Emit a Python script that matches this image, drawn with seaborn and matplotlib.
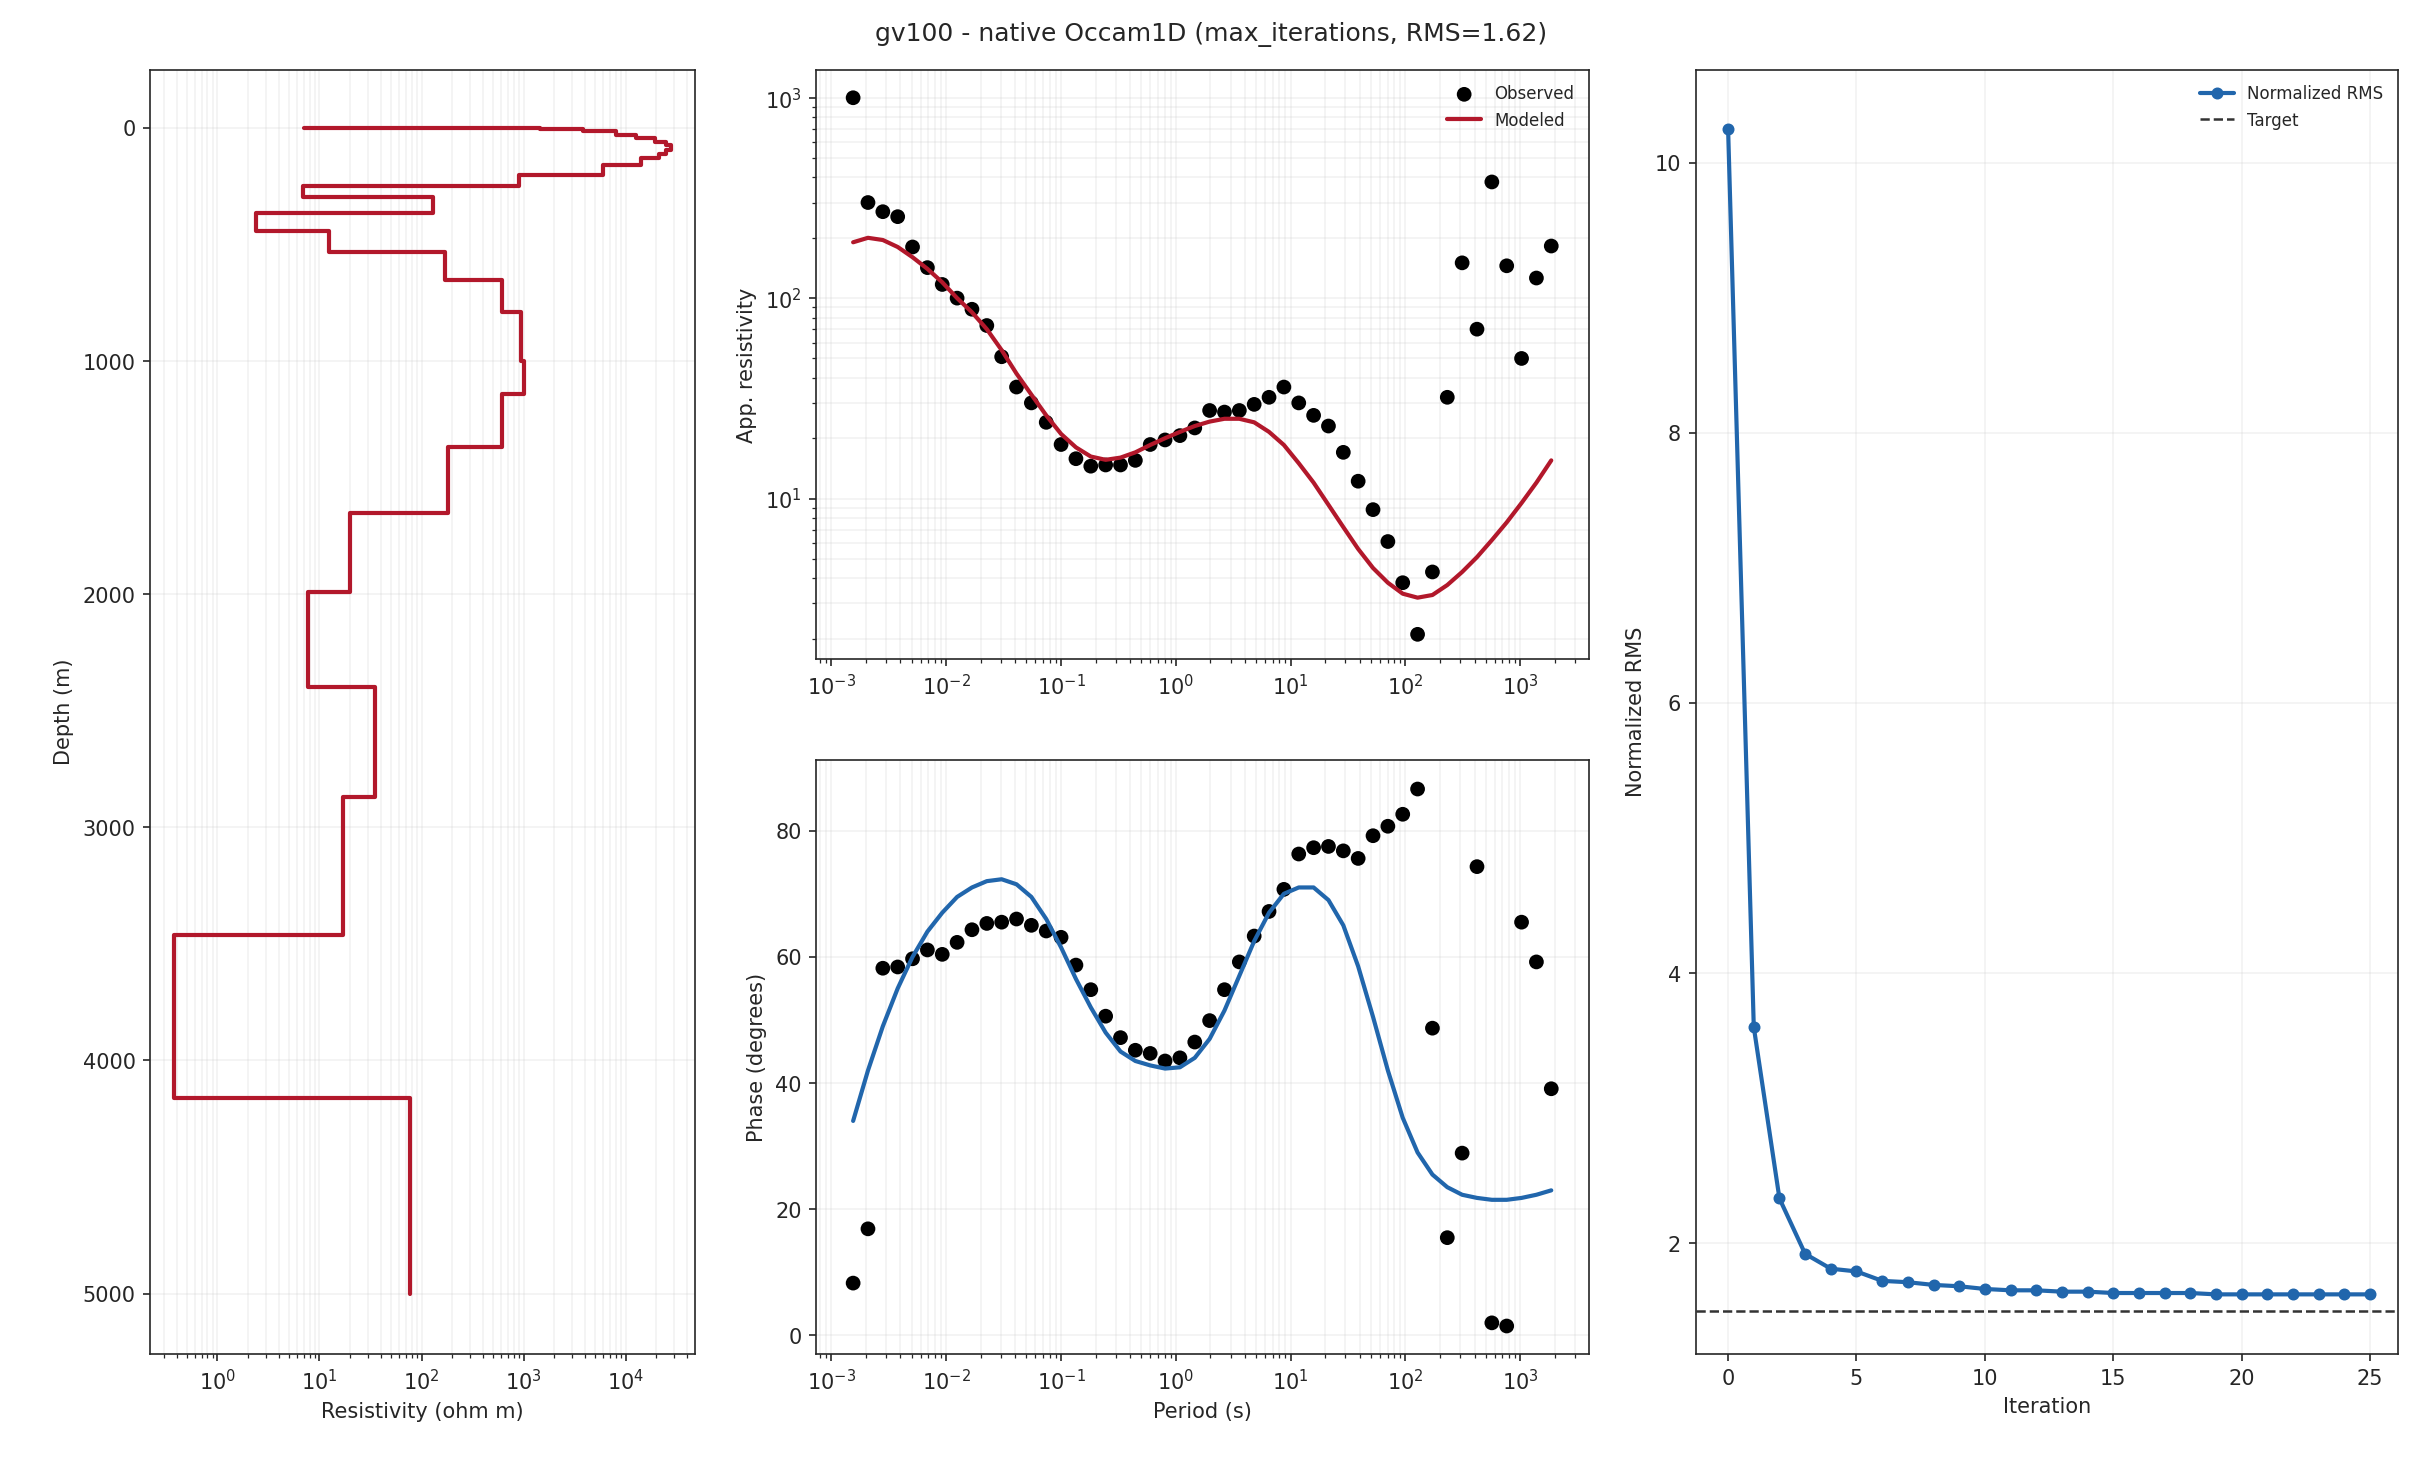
import numpy as np
import pandas as pd
import matplotlib.pyplot as plt
import seaborn as sns

sns.set_style('ticks')
plt.rcParams['font.family'] = ['DejaVu Sans']

# Layered model: (top depth, resistivity) per layer
layer_tops = [0, 0, 5, 15, 30, 45, 60, 75, 95, 110, 130, 160, 200, 248, 295, 364, 444, 532, 650,
              790, 1000, 1140, 1370, 1650, 1990, 2400, 2870, 3460, 4160]
layer_rho = [7, 1450, 3800, 8000, 12600, 19500, 25000, 28000, 25000, 21000, 14000, 6000, 900, 6.9,
             130, 2.4, 12.4, 170, 620, 950, 1000, 620, 180, 20, 7.8, 35, 17, 0.38, 77]
bottom_depth = 5000

# Build the staircase
stairs = []
bottoms = layer_tops[1:] + [bottom_depth]
for top, bot, rho in zip(layer_tops, bottoms, layer_rho):
    stairs.append((rho, top))
    stairs.append((rho, bot))
model_df = pd.DataFrame(stairs, columns=['rho', 'depth'])

# Response data
periods = 10 ** np.linspace(-2.81, 3.27, 48)
obs_rho = [1000, 300, 270, 255, 180, 142, 117, 100, 88, 73, 51, 36, 30, 24, 18.6, 15.8, 14.5, 14.7,
           14.7, 15.5, 18.6, 19.6, 20.6, 22.5, 27.5, 27, 27.5, 29.5, 32, 36, 30, 26, 23, 17, 12.2,
           8.8, 6.1, 3.8, 2.1, 4.3, 32, 150, 70, 380, 145, 50, 126, 182]
obs_phase = [8.3, 16.9, 58.2, 58.4, 59.7, 61.1, 60.4, 62.3, 64.3, 65.3, 65.5, 66.0, 65.0, 64.1,
             63.1, 58.7, 54.8, 50.6, 47.2, 45.2, 44.7, 43.5, 44.0, 46.5, 49.9, 54.8, 59.2, 63.3,
             67.2, 70.7, 76.3, 77.3, 77.5, 76.8, 75.6, 79.2, 80.7, 82.6, 86.6, 48.7, 15.5, 28.9,
             74.3, 2.0, 1.5, 65.5, 59.2, 39.1]
mod_rho = [190, 200, 195, 180, 160, 140, 120, 100, 85, 70, 55, 42, 33, 26, 21, 18, 16.2, 15.6, 16,
           17, 18.5, 20, 21.5, 23, 24.2, 25, 25, 24, 21.5, 18.5, 15, 12, 9.3, 7.2, 5.6, 4.5, 3.8,
           3.35, 3.2, 3.3, 3.7, 4.3, 5.1, 6.2, 7.6, 9.5, 12, 15.5]
mod_phase = [34, 42, 49, 55, 60, 64, 67, 69.5, 71, 72, 72.3, 71.5, 69.5, 66, 61.5, 56.5, 52, 48,
             45, 43.5, 42.8, 42.3, 42.5, 44, 47, 51.5, 57, 62.5, 67, 70, 71, 71, 69, 65, 58.5,
             50.5, 42, 34.5, 29, 25.5, 23.5, 22.3, 21.8, 21.5, 21.5, 21.8, 22.3, 23]
resp = pd.DataFrame({'period': periods, 'obs_rho': obs_rho, 'obs_phase': obs_phase,
                     'mod_rho': mod_rho, 'mod_phase': mod_phase})

# Convergence history
rms = [10.25, 3.6, 2.33, 1.92, 1.81, 1.79, 1.72, 1.71, 1.69, 1.68, 1.66, 1.65, 1.65, 1.64, 1.64,
       1.63, 1.63, 1.63, 1.63, 1.62, 1.62, 1.62, 1.62, 1.62, 1.62, 1.62]
rms_df = pd.DataFrame({'iteration': range(len(rms)), 'rms': rms})
target = 1.5

red = '#b2182b'
blue = '#2166ac'

fig = plt.figure(figsize=(16.15, 9.75), dpi=150)
ax_model = fig.add_axes([0.062, 0.074, 0.225, 0.878])
ax_rho = fig.add_axes([0.337, 0.549, 0.319, 0.403])
ax_phase = fig.add_axes([0.337, 0.074, 0.319, 0.406])
ax_rms = fig.add_axes([0.700, 0.074, 0.290, 0.878])

# Model panel
sns.lineplot(data=model_df, x='rho', y='depth', sort=False, estimator=None, color=red, lw=2, ax=ax_model)
ax_model.set_xscale('log')
ax_model.set_xlim(0.22, 4.8e4)
ax_model.set_ylim(5258, -250)
ax_model.set_xlabel('Resistivity (ohm m)')
ax_model.set_ylabel('Depth (m)')
ax_model.grid(True, which='both', alpha=0.25)

# Apparent resistivity
sns.scatterplot(data=resp, x='period', y='obs_rho', color='black', s=50, edgecolor='none',
                label='Observed', ax=ax_rho)
sns.lineplot(data=resp, x='period', y='mod_rho', color=red, lw=2, label='Modeled', ax=ax_rho)
ax_rho.set_xscale('log')
ax_rho.set_yscale('log')
ax_rho.set_xlim(10 ** -3.13, 10 ** 3.6)
ax_rho.set_ylim(1.58, 10 ** 3.14)
ax_rho.set_xlabel('')
ax_rho.set_ylabel('App. resistivity')
ax_rho.grid(True, which='both', alpha=0.25)
ax_rho.legend(frameon=False, fontsize=8, loc='upper right')

# Phase
sns.scatterplot(data=resp, x='period', y='obs_phase', color='black', s=50, edgecolor='none', ax=ax_phase)
sns.lineplot(data=resp, x='period', y='mod_phase', color=blue, lw=2, ax=ax_phase)
ax_phase.set_xscale('log')
ax_phase.set_xlim(10 ** -3.13, 10 ** 3.6)
ax_phase.set_ylim(-2.9, 91.2)
ax_phase.set_xlabel('Period (s)')
ax_phase.set_ylabel('Phase (degrees)')
ax_phase.grid(True, which='both', alpha=0.25)

# RMS history
sns.lineplot(data=rms_df, x='iteration', y='rms', color=blue, lw=2, marker='o', markersize=5,
             markeredgecolor=blue, label='Normalized RMS', ax=ax_rms)
ax_rms.axhline(target, color='#333333', ls='--', lw=1.2, label='Target')
ax_rms.set_xlim(-1.26, 26.1)
ax_rms.set_ylim(1.18, 10.69)
ax_rms.set_xlabel('Iteration')
ax_rms.set_ylabel('Normalized RMS')
ax_rms.grid(True, alpha=0.25)
ax_rms.legend(frameon=False, fontsize=8, loc='upper right')

fig.suptitle('gv100 - native Occam1D (max_iterations, RMS=1.62)', fontsize=12, y=0.985)

fig.savefig('out.png', dpi=150)
plt.close()
